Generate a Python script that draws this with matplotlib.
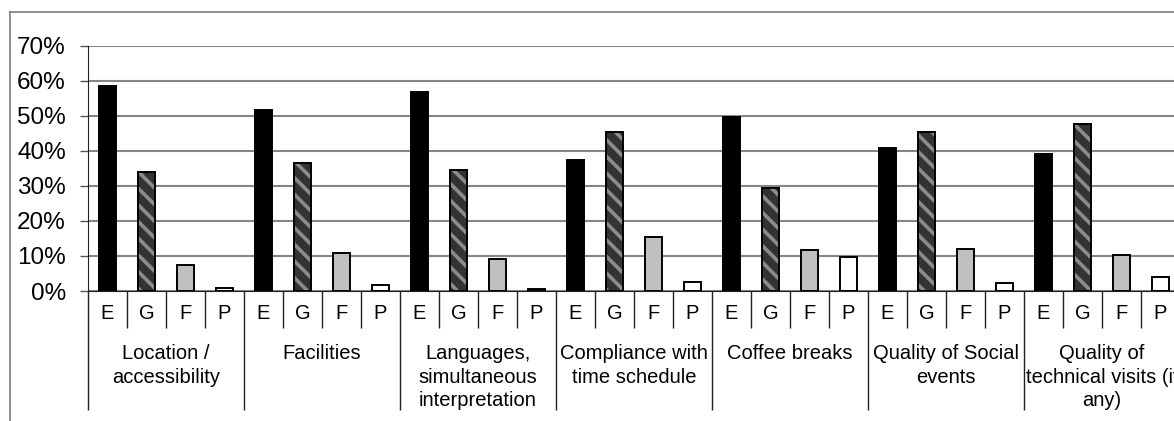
import matplotlib
matplotlib.use("Agg")
import matplotlib.pyplot as plt
from matplotlib.lines import Line2D
import numpy as np

plt.rcParams['font.family'] = ['Liberation Sans', 'DejaVu Sans']
plt.rcParams['hatch.linewidth'] = 2.6

groups = ["Location /\naccessibility", "Facilities",
          "Languages,\nsimultaneous\ninterpretation",
          "Compliance with\ntime schedule", "Coffee breaks",
          "Quality of Social\nevents",
          "Quality of\ntechnical visits (if\nany)"]
ratings = ["E", "G", "F", "P"]

excellent = [58.4, 51.5, 56.6, 37.4, 49.6, 40.8, 39.1]
good = [33.8, 36.4, 34.5, 45.4, 29.4, 45.3, 47.5]
fair = [7.4, 10.9, 9.1, 15.3, 11.6, 12.0, 10.2]
poor = [0.9, 1.8, 0.5, 2.5, 9.8, 2.3, 3.9]

W, H = 1174, 421
fig = plt.figure(figsize=(W / 100, H / 100), dpi=100)

# axes runs a little past the right edge, like the original
x0, x1, ytop, ybot = 88, 88 + 28 * 39, 45.5, 291
ax = fig.add_axes([x0 / W, (H - ybot) / H, (x1 - x0) / W, (ybot - ytop) / H])

n = len(groups)
pos = np.arange(n) * 4
bw = 0.42

ax.bar(pos, excellent, bw, color='black', edgecolor='black', lw=1.4, zorder=3)
ax.bar(pos + 1, good, bw, color='#333333', edgecolor='#8c8c8c', hatch='\\\\', lw=0, zorder=3)
ax.bar(pos + 1, good, bw, fill=False, edgecolor='black', lw=1.4, zorder=4)
ax.bar(pos + 2, fair, bw, color='#c0c0c0', edgecolor='black', lw=1.4, zorder=3)
ax.bar(pos + 3, poor, bw, color='white', edgecolor='black', lw=1.4, zorder=3)

ax.set_xlim(-0.5, 4 * n - 0.5)
ax.set_ylim(0, 70)
ax.set_yticks(range(0, 71, 10))
ax.set_yticklabels([f"{v}%" for v in range(0, 71, 10)], fontsize=17.5)
ax.yaxis.grid(True, color='#868686', lw=1.5, zorder=0)
ax.tick_params(axis='y', length=6, width=1, color='#555555', pad=10)

for s in ['top', 'right']:
    ax.spines[s].set_visible(False)
ax.spines['left'].set_color('#222222')
ax.spines['bottom'].set_color('#222222')

# slot separators (short) and group separators (long)
bounds = np.arange(4 * n + 1) - 0.5
major = bounds[::4]
minor = [b for i, b in enumerate(bounds) if i % 4 != 0]
ax.set_xticks(major)
ax.set_xticks(minor, minor=True)
ax.set_xticklabels([])
ax.tick_params(axis='x', which='major', length=86, width=1, color='#222222')
ax.tick_params(axis='x', which='minor', length=26.5, width=1, color='#222222')

for g in range(n):
    for k, r in enumerate(ratings):
        ax.annotate(r, (pos[g] + k, 0), xycoords=('data', 'axes fraction'),
                    xytext=(0, -16.5), textcoords='offset points',
                    ha='center', va='center', fontsize=14.5)
    ax.annotate(groups[g], (pos[g] + 1.5, 0), xycoords=('data', 'axes fraction'),
                xytext=(0, -38.5), textcoords='offset points',
                ha='center', va='top', fontsize=14.5, linespacing=1.3)

# outer chart frame
fig.add_artist(Line2D([10 / W, 1.2], [(H - 12) / H] * 2, color='#868686', lw=1.3))
fig.add_artist(Line2D([10 / W] * 2, [(H - 12) / H, -0.2], color='#868686', lw=1.3))

fig.savefig("out.png", dpi=100)
